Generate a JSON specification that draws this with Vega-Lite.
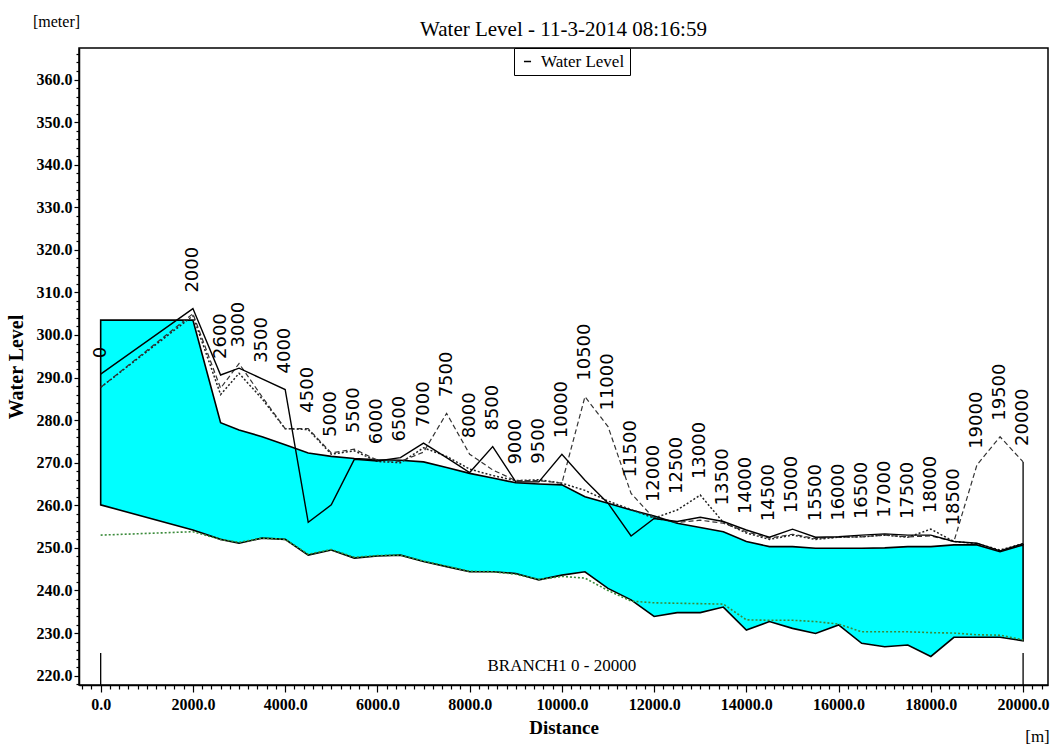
{
  "$schema": "https://vega.github.io/schema/vega-lite/v6.json",
  "autosize": {"type": "none"},
  "padding": {"left": 79, "top": 48, "right": 8, "bottom": 64},
  "width": 969,
  "height": 637,
  "background": "white",
  "title": {"text": "Water Level - 11-3-2014 08:16:59", "font": "Liberation Serif", "fontSize": 21, "fontWeight": "normal", "color": "black", "anchor": "middle", "offset": 8, "dy": 35},
  "config": {
    "view": {"stroke": "black", "strokeWidth": 1.5},
    "axis": {"grid": false, "domainColor": "black", "tickColor": "black", "labelColor": "black", "titleColor": "black"}
  },
  "datasets": {
    "profile": [
      {"ch": 0, "top": 303.5, "bed": 260.1, "solid": 290.8, "dashed": 287.7, "dotted": 287.7, "green": 253.0},
      {"ch": 2000, "top": 303.5, "bed": 254.2, "solid": 306.2, "dashed": 305.0, "dotted": 304.5, "green": 253.8},
      {"ch": 2600, "top": 279.4, "bed": 252.0, "solid": 290.6, "dashed": 287.5, "dotted": 286.0, "green": 252.0},
      {"ch": 3000, "top": 277.7, "bed": 251.1, "solid": 292.2, "dashed": 293.3, "dotted": 291.0, "green": 251.3},
      {"ch": 3500, "top": 276.1, "bed": 252.3, "solid": 289.7, "dashed": 285.5, "dotted": 285.0, "green": 252.3},
      {"ch": 4000, "top": 274.2, "bed": 252.0, "solid": 287.2, "dashed": 278.0, "dotted": 278.0, "green": 252.0},
      {"ch": 4500, "top": 272.3, "bed": 248.3, "solid": 256.0, "dashed": 278.0, "dotted": 277.8, "green": 248.5},
      {"ch": 5000, "top": 271.5, "bed": 249.5, "solid": 260.1, "dashed": 272.3, "dotted": 272.0, "green": 249.6},
      {"ch": 5500, "top": 271.0, "bed": 247.6, "solid": 270.8, "dashed": 273.2, "dotted": 272.8, "green": 247.8},
      {"ch": 6000, "top": 270.7, "bed": 248.1, "solid": 270.4, "dashed": 270.6, "dotted": 270.3, "green": 248.2},
      {"ch": 6500, "top": 270.6, "bed": 248.3, "solid": 271.2, "dashed": 270.3, "dotted": 270.0, "green": 248.3},
      {"ch": 7000, "top": 270.2, "bed": 246.8, "solid": 274.6, "dashed": 272.5, "dotted": 273.5, "green": 246.9},
      {"ch": 7500, "top": 268.9, "bed": 245.6, "solid": 271.2, "dashed": 281.6, "dotted": 271.5, "green": 245.7},
      {"ch": 8000, "top": 267.5, "bed": 244.4, "solid": 267.7, "dashed": 272.0, "dotted": 268.5, "green": 244.5},
      {"ch": 8500, "top": 266.4, "bed": 244.4, "solid": 273.8, "dashed": 268.3, "dotted": 267.0, "green": 244.4},
      {"ch": 9000, "top": 265.3, "bed": 244.0, "solid": 265.5, "dashed": 265.8, "dotted": 265.8, "green": 243.8},
      {"ch": 9500, "top": 265.0, "bed": 242.5, "solid": 265.5, "dashed": 265.8, "dotted": 266.0, "green": 242.6},
      {"ch": 10000, "top": 264.8, "bed": 243.6, "solid": 272.0, "dashed": 265.2, "dotted": 265.2, "green": 243.3},
      {"ch": 10500, "top": 262.0, "bed": 244.4, "solid": 265.9, "dashed": 285.5, "dotted": 263.5, "green": 242.9},
      {"ch": 11000, "top": 260.5, "bed": 240.5, "solid": 260.5, "dashed": 278.5, "dotted": 261.0, "green": 240.0},
      {"ch": 11500, "top": 258.9, "bed": 237.8, "solid": 252.8, "dashed": 262.8, "dotted": 259.0, "green": 237.5},
      {"ch": 12000, "top": 257.5, "bed": 233.9, "solid": 256.9, "dashed": 256.9, "dotted": 257.0, "green": 237.1},
      {"ch": 12500, "top": 255.8, "bed": 234.8, "solid": 256.2, "dashed": 256.0, "dotted": 258.9, "green": 237.0},
      {"ch": 13000, "top": 254.8, "bed": 234.8, "solid": 257.2, "dashed": 256.5, "dotted": 262.4, "green": 236.9},
      {"ch": 13500, "top": 253.8, "bed": 236.1, "solid": 256.2, "dashed": 255.8, "dotted": 256.0, "green": 236.8},
      {"ch": 14000, "top": 251.5, "bed": 230.7, "solid": 254.2, "dashed": 253.8, "dotted": 253.5, "green": 233.1},
      {"ch": 14500, "top": 250.3, "bed": 232.7, "solid": 252.5, "dashed": 252.3, "dotted": 252.0, "green": 233.0},
      {"ch": 15000, "top": 250.3, "bed": 231.1, "solid": 254.4, "dashed": 253.2, "dotted": 253.0, "green": 233.0},
      {"ch": 15500, "top": 249.9, "bed": 229.9, "solid": 252.5, "dashed": 252.2, "dotted": 252.0, "green": 232.7},
      {"ch": 16000, "top": 249.9, "bed": 231.9, "solid": 252.6, "dashed": 252.5, "dotted": 252.5, "green": 232.1},
      {"ch": 16500, "top": 249.9, "bed": 227.6, "solid": 253.0, "dashed": 252.6, "dotted": 252.6, "green": 230.3},
      {"ch": 17000, "top": 250.0, "bed": 226.8, "solid": 253.3, "dashed": 253.0, "dotted": 253.0, "green": 230.3},
      {"ch": 17500, "top": 250.3, "bed": 227.2, "solid": 253.0, "dashed": 252.6, "dotted": 252.5, "green": 230.3},
      {"ch": 18000, "top": 250.3, "bed": 224.5, "solid": 253.0, "dashed": 252.8, "dotted": 254.4, "green": 230.1},
      {"ch": 18500, "top": 250.7, "bed": 229.0, "solid": 251.5, "dashed": 251.5, "dotted": 251.5, "green": 230.0},
      {"ch": 19000, "top": 250.7, "bed": 229.0, "solid": 251.1, "dashed": 269.5, "dotted": 251.0, "green": 229.6},
      {"ch": 19500, "top": 249.1, "bed": 229.0, "solid": 249.3, "dashed": 276.1, "dotted": 249.5, "green": 229.5},
      {"ch": 20000, "top": 250.7, "bed": 228.2, "solid": 251.0, "dashed": 270.2, "dotted": 251.0, "green": 228.4}
    ]
  },
  "resolve": {"scale": {"x": "shared", "y": "shared"}, "axis": {"x": "independent", "y": "independent"}},
  "layer": [
    {
      "data": {"name": "profile"},
      "mark": {"type": "area", "color": "#00FFFF", "fillOpacity": 1, "stroke": "black", "strokeWidth": 1.6},
      "encoding": {
        "x": {"field": "ch", "type": "quantitative",
          "scale": {"domain": [-470, 20540], "nice": false, "zero": false},
          "axis": {
            "orient": "bottom",
            "title": "Distance",
            "values": [-400,-200,0,200,400,600,800,1000,1200,1400,1600,1800,2000,2200,2400,2600,2800,3000,3200,3400,3600,3800,4000,4200,4400,4600,4800,5000,5200,5400,5600,5800,6000,6200,6400,6600,6800,7000,7200,7400,7600,7800,8000,8200,8400,8600,8800,9000,9200,9400,9600,9800,10000,10200,10400,10600,10800,11000,11200,11400,11600,11800,12000,12200,12400,12600,12800,13000,13200,13400,13600,13800,14000,14200,14400,14600,14800,15000,15200,15400,15600,15800,16000,16200,16400,16600,16800,17000,17200,17400,17600,17800,18000,18200,18400,18600,18800,19000,19200,19400,19600,19800,20000,20200,20400],
            "labelExpr": "datum.value % 2000 === 0 ? format(datum.value, '.1f') : ''",
            "tickSize": {"condition": {"test": "datum.value % 2000 === 0", "value": 7}, "value": 4},
            "tickWidth": 1.2,
            "domainWidth": 1.5,
            "labelOverlap": false,
            "labelFlush": false,
            "labelFont": "Liberation Serif",
            "labelFontSize": 16,
            "labelFontWeight": "bold",
            "labelPadding": 4,
            "titleFont": "Liberation Serif",
            "titleFontSize": 19,
            "titleFontWeight": "bold",
            "titlePadding": 6
          }
        },
        "y": {"field": "bed", "type": "quantitative",
          "scale": {"domain": [217.8, 367.4], "nice": false, "zero": false},
          "axis": {
            "orient": "left",
            "title": "Water Level",
            "values": [218,220,222,224,226,228,230,232,234,236,238,240,242,244,246,248,250,252,254,256,258,260,262,264,266,268,270,272,274,276,278,280,282,284,286,288,290,292,294,296,298,300,302,304,306,308,310,312,314,316,318,320,322,324,326,328,330,332,334,336,338,340,342,344,346,348,350,352,354,356,358,360,362,364,366],
            "labelExpr": "datum.value % 10 === 0 ? format(datum.value, '.1f') : ''",
            "tickSize": {"condition": {"test": "datum.value % 10 === 0", "value": 5}, "value": 3},
            "tickWidth": 1.2,
            "domainWidth": 1.5,
            "labelOverlap": false,
            "labelFlush": false,
            "labelFont": "Liberation Serif",
            "labelFontSize": 16,
            "labelFontWeight": "bold",
            "labelPadding": 2,
            "titleFont": "Liberation Serif",
            "titleFontSize": 20,
            "titleFontWeight": "bold",
            "titlePadding": 10
          }
        },
        "y2": {"field": "top"}
      }
    },
    {
      "data": {"name": "profile"},
      "mark": {"type": "line", "color": "#3a8a3a", "strokeWidth": 1.6, "strokeDash": [2, 2]},
      "encoding": {
        "x": {"field": "ch", "type": "quantitative", "axis": null},
        "y": {"field": "green", "type": "quantitative", "axis": null}
      }
    },
    {
      "data": {"name": "profile"},
      "mark": {"type": "line", "color": "#222222", "strokeWidth": 1.5, "strokeDash": [2, 2]},
      "encoding": {
        "x": {"field": "ch", "type": "quantitative", "axis": null},
        "y": {"field": "dotted", "type": "quantitative", "axis": null}
      }
    },
    {
      "data": {"name": "profile"},
      "mark": {"type": "line", "color": "#333333", "strokeWidth": 1.2, "strokeDash": [5, 3]},
      "encoding": {
        "x": {"field": "ch", "type": "quantitative", "axis": null},
        "y": {"field": "dashed", "type": "quantitative", "axis": null}
      }
    },
    {
      "data": {"name": "profile"},
      "mark": {"type": "line", "strokeWidth": 1.4},
      "encoding": {
        "x": {"field": "ch", "type": "quantitative", "axis": null},
        "y": {"field": "solid", "type": "quantitative", "axis": null},
        "stroke": {"datum": "Water Level", "type": "nominal",
          "scale": {"range": ["black"]},
          "legend": {"title": null, "orient": "none", "legendX": 435, "legendY": 0,
            "strokeColor": "black", "fillColor": "white", "padding": 5,
            "symbolType": "stroke", "symbolSize": 50, "symbolStrokeWidth": 1.5,
            "labelFont": "Liberation Serif", "labelFontSize": 17, "labelColor": "black", "labelOffset": 5}
        }
      }
    },
    {
      "data": {"values": [
        {"ch": 0, "lo": 217.8, "hi": 225.3},
        {"ch": 20000, "lo": 217.8, "hi": 225.3},
        {"ch": 20000, "lo": 250.7, "hi": 270.2}
      ]},
      "mark": {"type": "rule", "color": "black", "strokeWidth": 1.3},
      "encoding": {
        "x": {"field": "ch", "type": "quantitative",
          "axis": {"orient": "bottom", "title": "[m]", "labels": false, "ticks": false, "domain": false, "grid": false,
            "titleX": 958, "titleY": 51, "titleAngle": 0, "titleAlign": "center", "titleBaseline": "middle",
            "titleFont": "Liberation Serif", "titleFontSize": 17, "titleFontWeight": "normal"}},
        "y": {"field": "lo", "type": "quantitative",
          "axis": {"orient": "left", "title": "[meter]", "labels": false, "ticks": false, "domain": false, "grid": false,
            "titleX": -23, "titleY": -27, "titleAngle": 0, "titleAlign": "center", "titleBaseline": "middle",
            "titleFont": "Liberation Serif", "titleFontSize": 16, "titleFontWeight": "normal"}},
        "y2": {"field": "hi"}
      }
    },
    {
      "data": {"name": "profile"},
      "transform": [{"calculate": "max(datum.solid, datum.dashed, datum.dotted)", "as": "ymax"}],
      "mark": {"type": "text", "angle": 270, "align": "left", "baseline": "middle", "dx": 16, "font": "DejaVu Sans", "fontSize": 18, "color": "black"},
      "encoding": {
        "x": {"field": "ch", "type": "quantitative", "axis": null},
        "y": {"field": "ymax", "type": "quantitative", "axis": null},
        "text": {"field": "ch", "type": "quantitative", "format": "d"}
      }
    },
    {
      "data": {"values": [{"ch": 10000, "y": 222.3, "label": "BRANCH1  0 - 20000"}]},
      "mark": {"type": "text", "align": "center", "baseline": "middle", "font": "Liberation Serif", "fontSize": 17, "color": "black"},
      "encoding": {
        "x": {"field": "ch", "type": "quantitative", "axis": null},
        "y": {"field": "y", "type": "quantitative", "axis": null},
        "text": {"field": "label", "type": "nominal"}
      }
    }
  ]
}
